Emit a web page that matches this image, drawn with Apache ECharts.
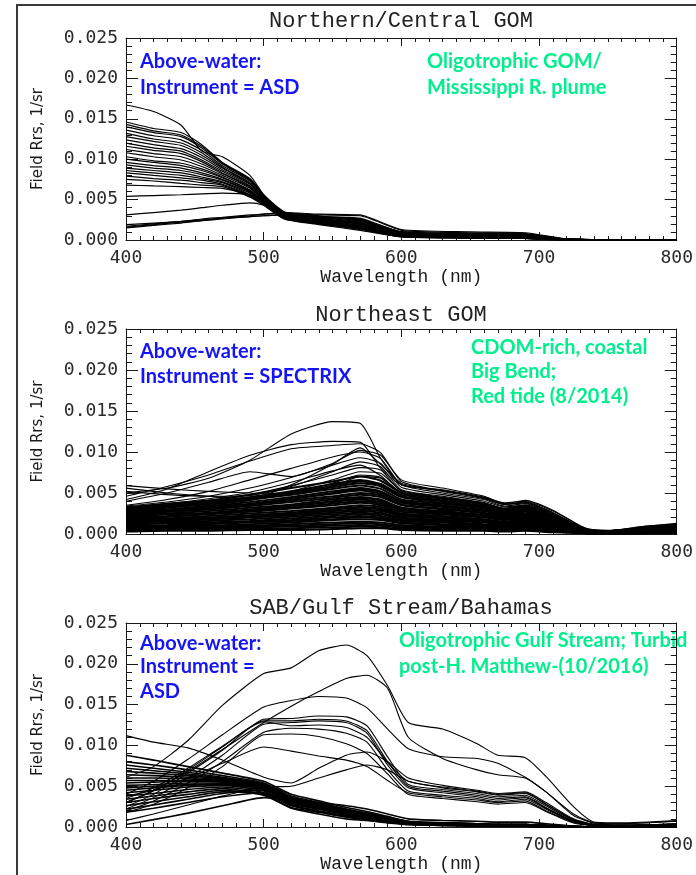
<!DOCTYPE html>
<html>
<head>
<meta charset="utf-8">
<script src="https://cdn.jsdelivr.net/npm/echarts@6/dist/echarts.min.js"></script>
<style>
  html, body { margin: 0; padding: 0; background: #fff; }
  #chart { width: 696px; height: 875px; }
</style>
</head>
<body>
<div id="chart"></div>
<script>
// Rrs values below are in units of 1e-3 sr^-1 (axis labels show them in 1/sr)
const xTicks = [400, 500, 600, 700, 800];
const yTicks = [0, 5, 10, 15, 20, 25];

const titles = ["Northern/Central GOM", "Northeast GOM", "SAB/Gulf Stream/Bahamas"];

// panel 1: Northern/Central GOM (ASD)
const wl1 = [400, 420, 440, 455, 470, 490, 500, 515, 540, 570, 600, 650, 690, 720, 800];
const rrs1 = [
  [16.7, 15.9, 14.2, 11.0, 10.3, 8.0, 5.6, 3.0, 2.8, 2.5, 1.0, 0.8, 0.7, 0.1, 0],
  [14.6, 13.8, 13.3, 11.8, 9.6, 7.6, 5.6, 3.5, 3.0, 2.3, 0.9, 0.7, 0.6, 0.1, 0],
  [14.3, 13.5, 13.0, 11.6, 9.5, 7.5, 5.5, 3.4, 2.6, 2.1, 0.8, 0.6, 0.5, 0.1, 0],
  [14.0, 13.3, 12.8, 11.4, 9.4, 7.4, 5.5, 3.4, 2.9, 2.4, 0.9, 0.7, 0.6, 0.1, 0],
  [13.6, 12.9, 12.4, 11.1, 9.2, 7.3, 5.4, 3.3, 2.7, 2.0, 0.7, 0.5, 0.4, 0.05, 0],
  [13.2, 12.5, 12.0, 10.8, 9.0, 7.1, 5.3, 3.3, 2.8, 2.2, 0.8, 0.6, 0.5, 0.1, 0],
  [12.8, 12.2, 11.7, 10.5, 8.9, 7.0, 5.3, 3.2, 2.5, 1.8, 0.6, 0.5, 0.4, 0.05, 0],
  [12.4, 11.8, 11.3, 10.2, 8.7, 6.9, 5.2, 3.2, 2.7, 2.1, 0.8, 0.6, 0.5, 0.1, 0],
  [12.0, 11.4, 11.0, 9.9, 8.5, 6.7, 5.1, 3.1, 2.4, 1.7, 0.6, 0.4, 0.3, 0.05, 0],
  [11.6, 11.1, 10.7, 9.7, 8.3, 6.6, 5.0, 3.1, 2.6, 1.9, 0.7, 0.5, 0.4, 0.05, 0],
  [11.2, 10.7, 10.3, 9.4, 8.2, 6.5, 5.0, 3.1, 2.5, 2.0, 0.7, 0.5, 0.4, 0.05, 0],
  [10.8, 10.3, 9.9, 9.1, 8.0, 6.4, 4.9, 3.0, 2.3, 1.6, 0.5, 0.4, 0.3, 0, 0],
  [10.3, 9.8, 9.5, 8.8, 7.8, 6.2, 4.8, 3.0, 2.4, 1.8, 0.6, 0.5, 0.4, 0.05, 0],
  [10.0, 9.6, 9.2, 8.6, 7.7, 6.1, 4.8, 2.9, 2.2, 1.5, 0.5, 0.4, 0.3, 0, 0],
  [9.6, 9.2, 8.9, 8.3, 7.5, 6.0, 4.7, 2.9, 2.3, 1.7, 0.6, 0.4, 0.3, 0.05, 0],
  [9.3, 8.9, 8.6, 8.1, 7.4, 5.9, 4.6, 2.8, 2.1, 1.4, 0.4, 0.3, 0.2, 0, 0],
  [8.9, 8.6, 8.3, 7.8, 7.2, 5.8, 4.6, 2.8, 2.2, 1.6, 0.5, 0.4, 0.3, 0.05, 0],
  [8.6, 8.3, 8.0, 7.6, 7.1, 5.6, 4.5, 2.7, 2.0, 1.3, 0.4, 0.3, 0.2, 0, 0],
  [8.3, 8.0, 7.7, 7.4, 6.9, 5.5, 4.4, 2.7, 2.1, 1.5, 0.5, 0.3, 0.2, 0, 0],
  [7.9, 7.6, 7.4, 7.1, 6.8, 5.4, 4.4, 2.6, 1.9, 1.2, 0.4, 0.2, 0.2, 0, 0],
  [7.5, 7.3, 7.0, 6.8, 6.6, 5.3, 4.3, 2.6, 2.0, 1.4, 0.4, 0.3, 0.2, 0, 0],
  [6.8, 6.7, 6.6, 6.5, 6.4, 5.6, 4.7, 3.0, 2.6, 2.1, 0.7, 0.5, 0.4, 0.05, 0],
  [5.4, 5.5, 5.6, 5.7, 5.8, 5.6, 4.8, 3.1, 2.8, 2.5, 0.9, 0.7, 0.6, 0.1, 0],
  [3.1, 3.4, 3.7, 4.0, 4.3, 4.6, 4.3, 3.2, 2.9, 2.6, 1.0, 0.8, 0.7, 0.1, 0],
  [1.5, 1.8, 2.1, 2.4, 2.7, 3.0, 3.2, 3.3, 3.1, 3.0, 1.2, 0.9, 0.8, 0.1, 0],
  [1.6, 1.9, 2.2, 2.4, 2.6, 2.9, 3.0, 3.1, 2.9, 2.7, 1.0, 0.8, 0.7, 0.1, 0],
  [1.7, 2.0, 2.3, 2.6, 2.8, 3.1, 3.2, 3.4, 3.2, 3.1, 1.3, 1.0, 0.9, 0.15, 0],
  [1.9, 2.1, 2.3, 2.5, 2.7, 2.9, 3.0, 3.1, 2.8, 2.6, 0.9, 0.7, 0.6, 0.1, 0]
];

// panel 2: Northeast GOM (SPECTRIX)
const wl2 = [400, 430, 460, 490, 520, 550, 570, 585, 600, 630, 660, 675, 690, 710, 735, 750, 775, 800];
const rrs2 = [
  [5.0, 5.6, 6.8, 9.0, 12.2, 13.7, 13.5, 9.2, 6.0, 5.4, 4.5, 3.8, 4.0, 2.8, 0.6, 0.4, 0.9, 1.2],
  [4.2, 5.5, 7.6, 9.6, 10.9, 11.3, 11.2, 8.0, 6.0, 5.3, 4.4, 3.6, 3.9, 2.6, 0.5, 0.4, 0.8, 1.1],
  [5.6, 5.0, 4.6, 4.3, 6.0, 8.5, 10.5, 8.5, 6.2, 5.2, 4.3, 3.6, 3.8, 2.5, 0.5, 0.3, 0.7, 1.0],
  [4.0, 5.0, 6.3, 7.6, 7.0, 8.6, 10.2, 9.6, 6.6, 5.6, 4.6, 3.7, 4.1, 2.9, 0.6, 0.4, 0.9, 1.3],
  [4.6, 5.8, 7.2, 8.9, 10.4, 10.8, 11.0, 9.9, 6.4, 5.3, 4.4, 3.6, 3.9, 2.6, 0.5, 0.3, 0.8, 1.1],
  [3.5, 4.2, 5.2, 6.6, 8.0, 9.4, 10.0, 9.2, 6.0, 5.0, 4.2, 3.4, 3.7, 2.4, 0.4, 0.3, 0.7, 1.0],
  [3.4, 3.9, 4.6, 5.6, 6.9, 8.4, 9.3, 8.6, 5.7, 4.8, 4.0, 3.3, 3.5, 2.2, 0.4, 0.2, 0.6, 0.9],
  [5.2, 4.8, 4.6, 4.7, 5.8, 7.6, 8.8, 8.2, 5.4, 4.6, 3.8, 3.1, 3.4, 2.1, 0.3, 0.2, 0.6, 0.8],
  [3.3, 3.6, 4.1, 4.8, 5.9, 7.2, 8.1, 7.8, 5.2, 4.4, 3.7, 3.0, 3.3, 2.0, 0.3, 0.2, 0.5, 0.8],
  [3.3, 3.7, 4.3, 5.1, 6.3, 7.7, 8.4, 7.1, 5.0, 4.3, 3.5, 2.8, 3.1, 1.9, 0.3, 0.2, 0.5, 0.7],
  [3.0, 3.2, 3.6, 4.2, 5.2, 6.6, 7.6, 7.4, 5.3, 4.5, 3.8, 3.1, 3.4, 2.1, 0.4, 0.2, 0.6, 0.8],
  [2.7, 3.0, 3.5, 4.1, 5.0, 6.2, 7.2, 6.9, 5.1, 4.4, 3.6, 3.0, 3.3, 2.0, 0.4, 0.2, 0.5, 0.8],
  [5.9, 5.5, 5.2, 5.0, 4.8, 5.8, 7.0, 6.8, 5.0, 4.4, 3.7, 3.0, 3.4, 2.1, 0.4, 0.3, 0.6, 0.9],
  [3.2, 3.7, 4.1, 4.8, 5.6, 6.4, 7.0, 6.5, 5.0, 4.3, 3.6, 3.1, 3.5, 2.3, 0.6, 0.4, 0.7, 1.0],
  [3.0, 3.4, 3.9, 4.5, 5.2, 6.1, 6.6, 6.1, 4.8, 4.1, 3.4, 2.9, 3.3, 2.2, 0.5, 0.3, 0.7, 0.9],
  [3.1, 3.5, 3.9, 4.4, 5.0, 5.7, 6.2, 5.8, 4.5, 3.8, 3.2, 2.7, 3.1, 2.0, 0.5, 0.3, 0.6, 0.9],
  [2.9, 3.3, 3.7, 4.2, 4.8, 5.5, 5.9, 5.5, 4.2, 3.7, 3.1, 2.6, 3.0, 1.9, 0.5, 0.3, 0.6, 0.8],
  [2.8, 3.2, 3.7, 4.3, 5.0, 5.9, 6.4, 6.0, 4.6, 4.0, 3.3, 2.8, 3.2, 2.1, 0.5, 0.3, 0.6, 0.9],
  [2.7, 3.0, 3.4, 3.9, 4.5, 5.2, 5.6, 5.2, 4.0, 3.5, 2.9, 2.5, 2.8, 1.8, 0.4, 0.3, 0.6, 0.8],
  [2.6, 2.9, 3.3, 3.7, 4.3, 4.9, 5.3, 4.9, 3.8, 3.3, 2.8, 2.3, 2.7, 1.7, 0.4, 0.3, 0.5, 0.7],
  [2.5, 2.8, 3.1, 3.6, 4.1, 4.6, 5.0, 4.7, 3.6, 3.1, 2.6, 2.2, 2.5, 1.7, 0.4, 0.3, 0.5, 0.7],
  [2.4, 2.7, 3.0, 3.4, 3.9, 4.4, 4.8, 4.5, 3.5, 3.0, 2.5, 2.1, 2.4, 1.6, 0.4, 0.2, 0.5, 0.7],
  [2.3, 2.7, 3.1, 3.6, 4.3, 5.0, 5.5, 5.1, 4.0, 3.4, 2.9, 2.4, 2.8, 1.8, 0.4, 0.3, 0.6, 0.8],
  [2.2, 2.5, 2.8, 3.2, 3.6, 4.2, 4.5, 4.2, 3.2, 2.8, 2.3, 2.0, 2.3, 1.5, 0.4, 0.2, 0.5, 0.6],
  [2.1, 2.4, 2.6, 3.0, 3.4, 3.9, 4.2, 3.9, 3.0, 2.6, 2.2, 1.8, 2.1, 1.4, 0.3, 0.2, 0.4, 0.6],
  [2.0, 2.2, 2.5, 2.8, 3.2, 3.7, 4.0, 3.7, 2.9, 2.5, 2.1, 1.8, 2.0, 1.3, 0.3, 0.2, 0.4, 0.6],
  [1.9, 2.1, 2.4, 2.7, 3.1, 3.5, 3.8, 3.5, 2.7, 2.4, 2.0, 1.7, 1.9, 1.3, 0.3, 0.2, 0.4, 0.5],
  [1.8, 2.1, 2.5, 2.9, 3.4, 4.0, 4.4, 4.1, 3.2, 2.7, 2.3, 1.9, 2.2, 1.5, 0.4, 0.2, 0.4, 0.6],
  [1.7, 1.9, 2.2, 2.5, 2.8, 3.2, 3.5, 3.3, 2.5, 2.2, 1.8, 1.5, 1.8, 1.2, 0.3, 0.2, 0.4, 0.5],
  [1.6, 1.8, 2.0, 2.3, 2.6, 3.0, 3.2, 3.0, 2.3, 2.0, 1.7, 1.4, 1.6, 1.1, 0.3, 0.2, 0.3, 0.4],
  [1.5, 1.7, 1.9, 2.1, 2.4, 2.8, 3.0, 2.8, 2.2, 1.9, 1.6, 1.3, 1.5, 1.0, 0.2, 0.2, 0.3, 0.4],
  [1.4, 1.6, 1.8, 2.0, 2.3, 2.6, 2.8, 2.6, 2.0, 1.7, 1.5, 1.2, 1.4, 0.9, 0.2, 0.1, 0.3, 0.4],
  [1.3, 1.5, 1.8, 2.1, 2.5, 3.0, 3.3, 3.1, 2.4, 2.0, 1.7, 1.5, 1.7, 1.1, 0.3, 0.2, 0.3, 0.5],
  [1.2, 1.4, 1.6, 1.8, 2.1, 2.4, 2.6, 2.4, 1.9, 1.6, 1.4, 1.1, 1.3, 0.9, 0.2, 0.1, 0.3, 0.4],
  [1.1, 1.3, 1.4, 1.6, 1.9, 2.2, 2.4, 2.2, 1.7, 1.5, 1.2, 1.1, 1.2, 0.8, 0.2, 0.1, 0.2, 0.3],
  [1.0, 1.1, 1.3, 1.5, 1.7, 2.0, 2.2, 2.0, 1.6, 1.4, 1.1, 1.0, 1.1, 0.7, 0.2, 0.1, 0.2, 0.3],
  [0.9, 1.0, 1.2, 1.4, 1.6, 1.8, 2.0, 1.9, 1.4, 1.2, 1.0, 0.9, 1.0, 0.7, 0.2, 0.1, 0.2, 0.3],
  [0.8, 0.9, 1.0, 1.2, 1.4, 1.7, 1.8, 1.7, 1.3, 1.1, 0.9, 0.8, 0.9, 0.6, 0.1, 0.1, 0.2, 0.3],
  [0.7, 0.8, 0.9, 1.0, 1.2, 1.4, 1.5, 1.4, 1.1, 0.9, 0.8, 0.7, 0.8, 0.5, 0.1, 0.1, 0.2, 0.2],
  [0.6, 0.7, 0.8, 0.9, 1.0, 1.2, 1.3, 1.2, 0.9, 0.8, 0.7, 0.6, 0.7, 0.4, 0.1, 0.1, 0.1, 0.2],
  [0.5, 0.6, 0.6, 0.8, 0.9, 1.0, 1.1, 1.0, 0.8, 0.7, 0.6, 0.5, 0.6, 0.4, 0.1, 0.1, 0.1, 0.2],
  [0.4, 0.5, 0.5, 0.6, 0.7, 0.8, 0.9, 0.8, 0.6, 0.6, 0.5, 0.4, 0.5, 0.3, 0.1, 0.0, 0.1, 0.1],
  [0.3, 0.4, 0.4, 0.5, 0.5, 0.6, 0.7, 0.7, 0.5, 0.4, 0.4, 0.3, 0.4, 0.2, 0.1, 0.0, 0.1, 0.1]
];

// panel 3: SAB/Gulf Stream/Bahamas (ASD)
const wl3 = [400, 420, 445, 470, 500, 520, 540, 560, 575, 590, 605, 630, 655, 670, 690, 705, 725, 740, 760, 800];
const rrs3 = [
  [6.1, 7.4, 10.6, 14.9, 18.8, 19.5, 21.6, 22.3, 21.0, 17.3, 12.8, 12.0, 10.2, 8.8, 8.5, 6.2, 2.5, 0.6, 0.5, 0.8],
  [3.0, 4.5, 6.8, 9.5, 12.8, 14.8, 16.6, 18.2, 18.6, 17.0, 11.0, 8.4, 7.0, 6.4, 6.0, 4.3, 1.4, 0.5, 0.4, 0.7],
  [4.0, 5.6, 8.3, 11.3, 14.7, 15.5, 16.0, 15.8, 14.6, 12.0, 9.6, 8.6, 8.4, 7.8, 6.1, 4.3, 1.6, 0.5, 0.4, 0.7],
  [2.5, 4.0, 6.6, 9.4, 13.2, 13.3, 13.6, 13.5, 12.4, 8.6, 5.2, 4.6, 4.1, 3.7, 3.9, 2.6, 0.8, 0.3, 0.2, 0.4],
  [3.0, 4.4, 7.0, 9.8, 13.0, 13.0, 13.2, 13.0, 11.8, 8.0, 5.0, 4.4, 3.9, 3.5, 3.7, 2.4, 0.7, 0.3, 0.2, 0.3],
  [2.2, 3.6, 6.0, 8.8, 12.6, 12.8, 13.0, 12.8, 11.5, 7.6, 4.8, 4.2, 3.7, 3.3, 3.6, 2.3, 0.7, 0.2, 0.2, 0.3],
  [3.5, 4.8, 7.2, 9.9, 12.9, 12.4, 12.5, 12.2, 11.0, 7.9, 5.6, 4.9, 4.4, 4.0, 4.2, 2.8, 0.9, 0.3, 0.2, 0.4],
  [2.0, 3.2, 5.4, 8.0, 11.6, 12.1, 12.0, 11.5, 10.4, 7.0, 4.4, 3.9, 3.5, 3.1, 3.4, 2.2, 0.6, 0.2, 0.2, 0.3],
  [1.8, 2.8, 4.8, 7.4, 11.3, 11.4, 11.1, 10.2, 9.0, 6.5, 4.0, 3.5, 3.1, 2.8, 3.0, 1.9, 0.5, 0.2, 0.1, 0.2],
  [3.8, 4.5, 6.0, 7.8, 9.8, 9.3, 8.7, 8.2, 7.4, 5.7, 4.2, 3.7, 3.3, 3.0, 3.2, 2.0, 0.6, 0.2, 0.1, 0.2],
  [11.2, 10.4, 9.7, 8.2, 6.1, 5.4, 7.2, 8.8, 9.2, 8.0, 6.0, 5.1, 4.5, 4.1, 4.3, 3.0, 1.0, 0.3, 0.2, 0.4],
  [0.8, 1.6, 2.7, 3.8, 4.9, 5.0, 6.0, 7.0, 7.6, 7.0, 5.6, 4.8, 4.3, 3.9, 4.1, 2.8, 0.9, 0.3, 0.2, 0.4],
  [8.8, 8.2, 7.4, 6.6, 5.6, 4.0, 3.2, 2.4, 1.9, 1.3, 0.7, 0.5, 0.4, 0.3, 0.3, 0.2, 0.1, 0, 0, 0],
  [8.0, 7.6, 7.0, 6.3, 5.4, 3.8, 3.0, 2.2, 1.7, 1.2, 0.6, 0.5, 0.4, 0.3, 0.3, 0.2, 0.1, 0, 0, 0],
  [7.6, 7.2, 6.7, 6.1, 5.3, 3.6, 2.8, 2.0, 1.6, 1.1, 0.6, 0.4, 0.3, 0.3, 0.2, 0.1, 0, 0, 0, 0],
  [7.2, 6.9, 6.5, 6.0, 5.2, 3.5, 2.7, 1.9, 1.5, 1.0, 0.5, 0.4, 0.3, 0.2, 0.2, 0.1, 0, 0, 0, 0],
  [6.8, 6.6, 6.3, 5.9, 5.1, 3.4, 2.6, 1.8, 1.4, 0.9, 0.5, 0.4, 0.3, 0.2, 0.2, 0.1, 0, 0, 0, 0],
  [6.4, 6.3, 6.1, 5.8, 5.0, 3.3, 2.5, 1.7, 1.3, 0.9, 0.5, 0.3, 0.3, 0.2, 0.2, 0.1, 0, 0, 0, 0],
  [6.0, 6.0, 5.9, 5.7, 5.1, 3.6, 2.9, 2.1, 1.7, 1.2, 0.7, 0.5, 0.4, 0.3, 0.3, 0.2, 0.1, 0, 0, 0],
  [5.7, 5.7, 5.7, 5.6, 5.0, 3.4, 2.7, 2.0, 1.6, 1.1, 0.6, 0.4, 0.3, 0.3, 0.3, 0.1, 0, 0, 0, 0],
  [5.4, 5.5, 5.6, 5.5, 4.9, 3.2, 2.5, 1.8, 1.4, 1.0, 0.5, 0.4, 0.3, 0.2, 0.2, 0.1, 0, 0, 0, 0],
  [5.1, 5.2, 5.4, 5.4, 4.8, 3.1, 2.4, 1.7, 1.3, 0.9, 0.5, 0.3, 0.3, 0.2, 0.2, 0.1, 0, 0, 0, 0],
  [4.8, 5.0, 5.2, 5.3, 4.7, 3.0, 2.3, 1.6, 1.2, 0.8, 0.4, 0.3, 0.2, 0.2, 0.2, 0.1, 0, 0, 0, 0],
  [4.5, 4.8, 5.1, 5.2, 4.6, 2.9, 2.2, 1.5, 1.1, 0.8, 0.4, 0.3, 0.2, 0.2, 0.2, 0.1, 0, 0, 0, 0],
  [4.2, 4.5, 4.9, 5.1, 4.4, 2.7, 2.0, 1.4, 1.0, 0.7, 0.4, 0.3, 0.2, 0.2, 0.1, 0.1, 0, 0, 0, 0],
  [3.8, 4.1, 4.6, 4.9, 4.2, 2.6, 1.9, 1.3, 1.0, 0.7, 0.3, 0.2, 0.2, 0.1, 0.1, 0, 0, 0, 0, 0],
  [3.4, 3.8, 4.3, 4.7, 4.0, 2.4, 1.8, 1.2, 0.9, 0.6, 0.3, 0.2, 0.2, 0.1, 0.1, 0, 0, 0, 0, 0],
  [3.0, 3.5, 4.0, 4.5, 3.9, 2.3, 1.6, 1.0, 0.8, 0.5, 0.3, 0.2, 0.1, 0.1, 0.1, 0, 0, 0, 0, 0],
  [2.6, 3.1, 3.7, 4.3, 4.1, 2.8, 2.2, 1.6, 1.3, 0.9, 0.5, 0.4, 0.3, 0.2, 0.2, 0.1, 0, 0, 0, 0],
  [2.2, 2.7, 3.4, 4.1, 4.5, 3.2, 2.6, 2.0, 1.6, 1.1, 0.6, 0.5, 0.4, 0.3, 0.3, 0.2, 0.1, 0, 0, 0],
  [1.8, 2.3, 3.0, 3.7, 4.2, 3.0, 2.4, 1.8, 1.5, 1.0, 0.6, 0.4, 0.3, 0.3, 0.3, 0.2, 0.1, 0, 0, 0],
  [0.3, 0.9, 1.7, 2.6, 3.6, 3.4, 3.0, 2.6, 2.2, 1.6, 1.0, 0.8, 0.7, 0.6, 0.6, 0.4, 0.1, 0, 0, 0.1]
];

// plot-area placement of the three panels
const gridTops = [38, 329, 623];
const gridHeights = [202, 205, 204];
// index from which the densely packed spectra start in each panel (drawn a bit heavier)
const denseFrom = [1, 13, 12];
const denseWidth = [1.2, 2, 1.6];

const blue = "#1414f5";
const green = "#00ee8c";
const axisColor = "#1a1a1a";
const tickFont = "DejaVu Sans Mono";
const labelFont = "Liberation Mono";

const chart = echarts.init(document.getElementById("chart"), null, { renderer: "canvas" });

const wls = [wl1, wl2, wl3];
const spectra = [rrs1, rrs2, rrs3];

let grids = [], xAxes = [], yAxes = [], series = [];

gridTops.forEach(function (top, i) {
  grids.push({ left: 126, top: top, width: 551, height: gridHeights[i] });

  const xBase = {
    type: "value", gridIndex: i, min: xTicks[0], max: xTicks[xTicks.length - 1], interval: 100,
    axisLine: { show: true, onZero: false, lineStyle: { color: axisColor, width: 1 } },
    axisTick: { show: true, inside: true, length: 8, lineStyle: { color: axisColor } },
    minorTick: { show: true, splitNumber: 10, length: 4, lineStyle: { color: axisColor } },
    splitLine: { show: false },
    minorSplitLine: { show: false }
  };
  xAxes.push(Object.assign({}, xBase, {
    position: "bottom",
    axisLabel: { margin: 9, fontFamily: tickFont, fontSize: 18, color: "#2a2a2a" },
    name: "Wavelength (nm)", nameLocation: "middle", nameGap: 28,
    nameTextStyle: { fontFamily: labelFont, fontSize: 18, color: axisColor }
  }));
  xAxes.push(Object.assign({}, xBase, { position: "top", axisLabel: { show: false } }));

  const yBase = {
    type: "value", gridIndex: i, min: yTicks[0], max: yTicks[yTicks.length - 1], interval: 5,
    axisLine: { show: true, onZero: false, lineStyle: { color: axisColor, width: 1 } },
    axisTick: { show: true, inside: true, length: 12, lineStyle: { color: axisColor } },
    minorTick: { show: true, splitNumber: 5, length: 6, lineStyle: { color: axisColor } },
    splitLine: { show: false },
    minorSplitLine: { show: false }
  };
  yAxes.push(Object.assign({}, yBase, {
    position: "left",
    axisLabel: {
      margin: 8, fontFamily: tickFont, fontSize: 18, color: "#2a2a2a",
      formatter: function (v) { return (v / 1000).toFixed(3); }
    },
    name: "Field Rrs, 1/sr", nameLocation: "middle", nameGap: 80,
    nameTextStyle: { fontFamily: "DejaVu Sans", fontSize: 15, color: axisColor }
  }));
  yAxes.push(Object.assign({}, yBase, { position: "right", axisLabel: { show: false } }));

  spectra[i].forEach(function (s, j) {
    series.push({
      type: "line",
      xAxisIndex: 2 * i,
      yAxisIndex: 2 * i,
      data: wls[i].map(function (w, k) { return [w, s[k]]; }),
      showSymbol: false,
      smooth: 0.2,
      silent: true,
      lineStyle: { color: "#000", width: j >= denseFrom[i] ? denseWidth[i] : 1.1 }
    });
  });
});

function note(x, y, text, color) {
  return {
    type: "text", x: x, y: y, silent: true,
    style: { text: text, fill: color, font: "bold 20px Lato", textVerticalAlign: "middle" }
  };
}
function heading(y, text) {
  return {
    type: "text", x: 401, y: y, silent: true,
    style: { text: text, fill: "#222", font: "22px 'Liberation Mono'", textAlign: "center", textVerticalAlign: "middle" }
  };
}

const graphics = [
  { type: "polyline", silent: true, shape: { points: [[17, 875], [17, 5], [696, 5]] },
    style: { stroke: "#3a3a3a", lineWidth: 2, fill: null } },
  heading(21, titles[0]),
  heading(315, titles[1]),
  heading(608, titles[2]),
  note(140, 62, "Above-water:", blue),
  note(140, 88, "Instrument = ASD", blue),
  note(427, 62, "Oligotrophic GOM/", green),
  note(427, 88, "Mississippi R. plume", green),
  note(140, 352, "Above-water:", blue),
  note(140, 377, "Instrument = SPECTRIX", blue),
  note(471, 348, "CDOM-rich, coastal", green),
  note(471, 372, "Big Bend;", green),
  note(471, 397, "Red tide (8/2014)", green),
  note(140, 644, "Above-water:", blue),
  note(140, 667, "Instrument =", blue),
  note(140, 692, "ASD", blue),
  note(399, 641, "Oligotrophic Gulf Stream; Turbid", green),
  note(399, 667, "post-H. Matthew-(10/2016)", green)
];

chart.setOption({
  animation: false,
  backgroundColor: "#fff",
  grid: grids,
  xAxis: xAxes,
  yAxis: yAxes,
  series: series,
  graphic: graphics
});
</script>
</body>
</html>
